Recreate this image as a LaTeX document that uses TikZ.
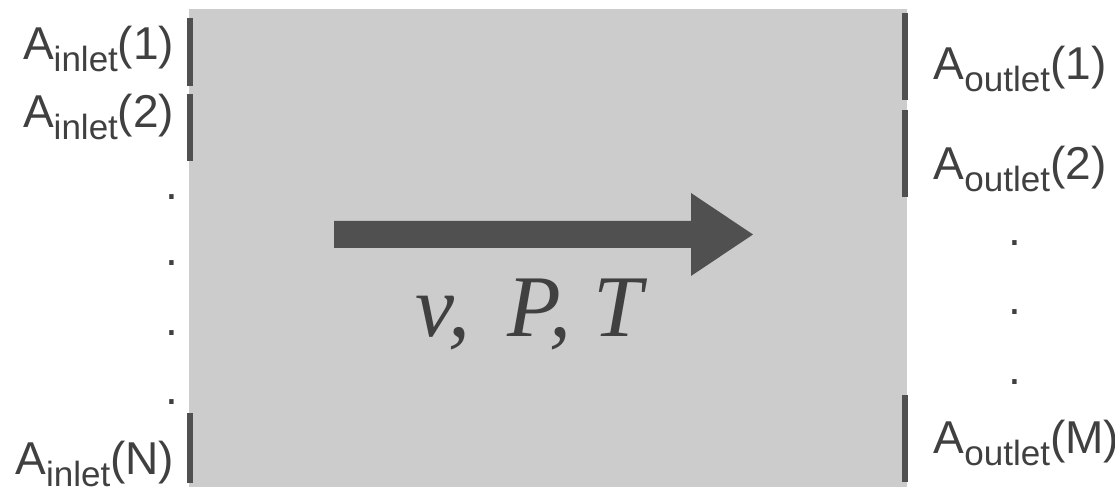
\documentclass[tikz,border=0pt]{standalone}
\usepackage{fontspec}
\setmainfont{Liberation Sans}
\newfontfamily\flowfont{Liberation Serif}
\usetikzlibrary{positioning}

\definecolor{boxgray}{HTML}{CCCCCC}
\definecolor{barink}{HTML}{505050}
\definecolor{textink}{HTML}{404040}

\newcommand{\portname}[2]{A\raisebox{-3.3pt}{\fontsize{9.96}{12}\selectfont #1}(#2)}

\begin{document}
\begin{tikzpicture}[x=0.01cm, y=-0.01cm,
  port/.style={draw=barink, line width=1.5pt},
  portlabel/.style={inner sep=0pt, text=textink, font=\fontsize{13.1}{15}\selectfont},
  dotmark/.style={inner sep=0pt, text=textink, font=\fontsize{13.1}{15}\selectfont, anchor=base}
]
  \useasboundingbox (0,0) rectangle (1115,489);

  % Control volume
  \fill[boxgray] (189,9) rectangle (907,487);

  % Flow arrow
  \fill[barink] (334,221) -- (691,221) -- (691,193) -- (753,234.5)
    -- (691,276) -- (691,248) -- (334,248) -- cycle;
  \node[inner sep=0pt, anchor=base west, text=textink,
    font=\flowfont\itshape\fontsize{25}{30}\selectfont] (state) at (415,337)
    {v,\hspace{0.42em}P,\hspace{0.25em}T};

  % Inlet ports
  \draw[port] (190,18) -- (190,86);
  \draw[port] (190,94) -- (190,161);
  \draw[port] (190,413) -- (190,483);
  \node[portlabel, anchor=base east] (in1) at (175,60) {\portname{inlet}{1}};
  \node[portlabel, anchor=base east] (in2) at (175,128) {\portname{inlet}{2}};
  \node[portlabel, anchor=base east] (inN) at (175,475) {\portname{inlet}{N}};
  \foreach \y [count=\i] in {199.5,265.5,335.5,404.5}
    \node[dotmark] (indot\i) at (172,\y) {.};

  % Outlet ports
  \draw[port] (905,13) -- (905,100);
  \draw[port] (905,110) -- (905,197);
  \draw[port] (905,395) -- (905,482);
  \node[portlabel, anchor=base west] (out1) at (933,80) {\portname{outlet}{1}};
  \node[portlabel, anchor=base west] (out2) at (933,180) {\portname{outlet}{2}};
  \node[portlabel, anchor=base west] (outM) at (933,454) {\portname{outlet}{M}};
  \foreach \y [count=\i] in {245.5,314.5,385}
    \node[dotmark] (outdot\i) at (1015,\y) {.};

\end{tikzpicture}
\end{document}
